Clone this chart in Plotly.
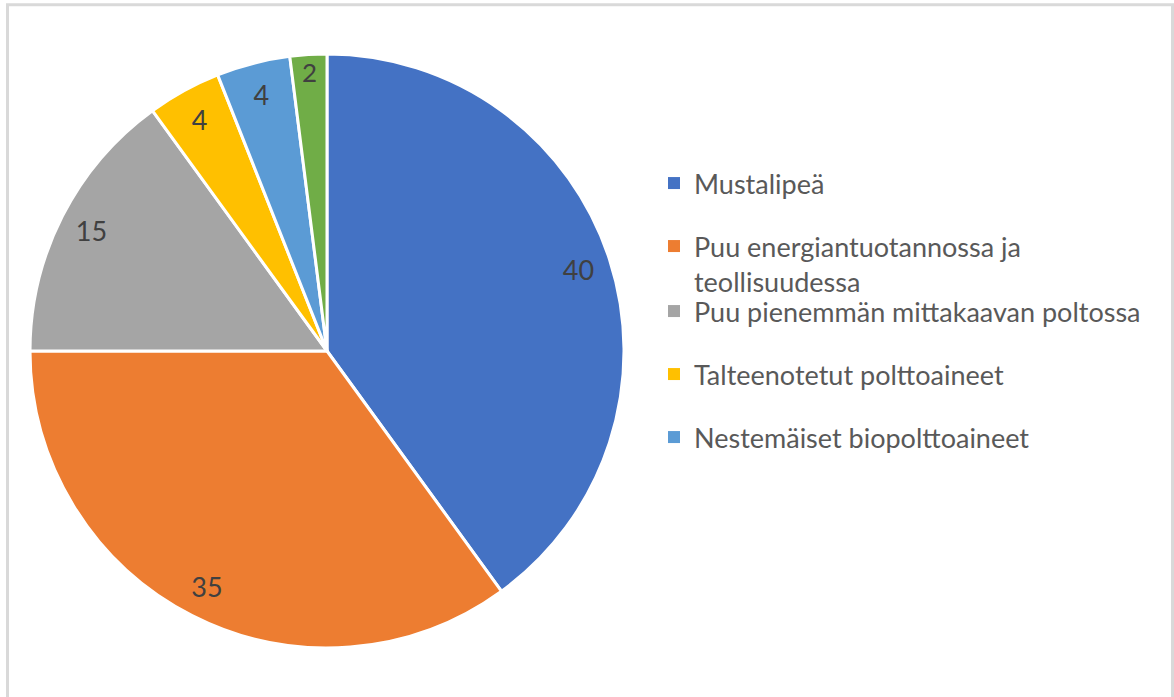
import plotly.graph_objects as go

categories = [
    "Mustalipeä",
    "Puu energiantuotannossa ja teollisuudessa",
    "Puu pienemmän mittakaavan poltossa",
    "Talteenotetut polttoaineet",
    "Nestemäiset biopolttoaineet",
    "Muut",
]
values = [40, 35, 15, 4, 4, 2]
colors = ["#4472C4", "#ED7D31", "#A5A5A5", "#FFC000", "#5B9BD5", "#70AD47"]
legend_labels = [
    "Mustalipeä",
    "Puu energiantuotannossa ja<br>teollisuudessa",
    "Puu pienemmän mittakaavan poltossa",
    "Talteenotetut polttoaineet",
    "Nestemäiset biopolttoaineet",
]

W, H = 1174, 697
cx, cy, R = 327, 351, 297
dom = dict(x=[(cx - R) / W, (cx + R) / W], y=[1 - (cy + R) / H, 1 - (cy - R) / H])

fig = go.Figure()
fig.add_trace(go.Pie(
    labels=categories,
    values=values,
    sort=False,
    direction="clockwise",
    rotation=0,
    marker=dict(colors=colors, line=dict(color="white", width=3)),
    textinfo="none",
    domain=dom,
    showlegend=False,
    hoverinfo="label+value",
))
# transparent ring carrying the data labels near the outer edge
fig.add_trace(go.Pie(
    labels=categories,
    values=values,
    sort=False,
    direction="clockwise",
    rotation=0,
    hole=0.78,
    marker=dict(colors=["rgba(0,0,0,0)"] * len(values), line=dict(width=0)),
    textinfo="value",
    textposition="inside",
    insidetextorientation="horizontal",
    textfont=dict(family="Lato", size=27, color="#404040"),
    domain=dom,
    showlegend=False,
    hoverinfo="skip",
))

legend_tops = [159, 222, 287, 350, 413]
layout_legends = {}
for i, (name, col, top) in enumerate(zip(legend_labels, colors, legend_tops)):
    key = "legend" if i == 0 else f"legend{i + 1}"
    fig.add_trace(go.Scatter(
        x=[None], y=[None], mode="markers", name=name,
        marker=dict(symbol="square", size=12, color=col),
        legend=key, showlegend=True,
    ))
    layout_legends[key] = dict(
        x=654 / W, xanchor="left", y=1 - top / H, yanchor="top",
        font=dict(family="Lato", size=27, color="#595959"),
        valign="top", bgcolor="rgba(0,0,0,0)",
    )

fig.update_layout(
    width=W, height=H,
    margin=dict(l=0, r=0, t=0, b=0),
    paper_bgcolor="white", plot_bgcolor="white",
    xaxis=dict(visible=False), yaxis=dict(visible=False),
    font=dict(family="Lato", color="#595959"),
    shapes=[dict(
        type="rect", xref="paper", yref="paper",
        x0=7.5 / W, x1=1172.5 / W, y0=-0.05, y1=1 - 4.7 / H,
        line=dict(color="#D9D9D9", width=3), fillcolor="rgba(0,0,0,0)",
        layer="below",
    )],
    **layout_legends,
)

fig.write_html(
    "out.html",
    config={"displayModeBar": False},
    post_script="document.body.style.margin='0';",
)
